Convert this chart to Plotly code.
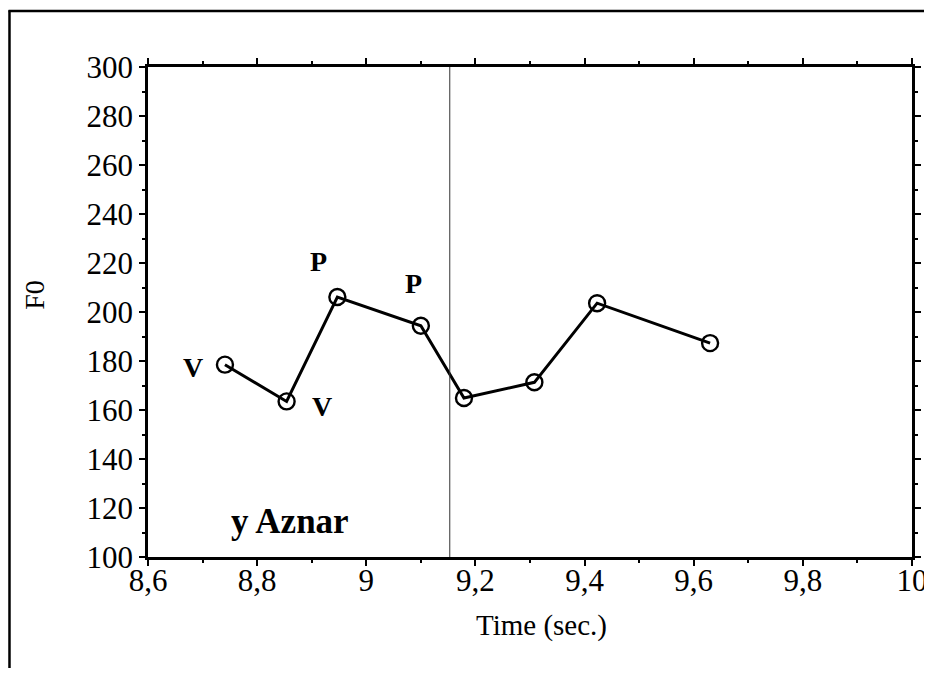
import plotly.graph_objects as go

# ---- data ----
time_s = [8.741, 8.854, 8.947, 9.100, 9.179, 9.308, 9.423, 9.630]
f0_hz = [178.5, 163.5, 206.1, 194.4, 164.9, 171.3, 203.6, 187.3]

boundary_t = 9.153

label_text = ["V", "V", "P", "P"]
label_x = [8.682, 8.918, 8.912, 9.086]
label_y = [177.3, 161.5, 220.6, 211.8]

phrase_text = "y Aznar"
phrase_x = 8.86
phrase_y = 114.6

x_tickvals = [8.6, 8.8, 9.0, 9.2, 9.4, 9.6, 9.8, 10.0]
x_ticktext = ["8,6", "8,8", "9", "9,2", "9,4", "9,6", "9,8", "10"]
y_tickvals = [100, 120, 140, 160, 180, 200, 220, 240, 260, 280, 300]

x_title = "Time (sec.)"
y_title = "F0"

FONT = "Liberation Serif, Times New Roman, serif"

fig = go.Figure()
fig.add_trace(go.Scatter(
    x=time_s, y=f0_hz, mode="lines+markers",
    line=dict(color="black", width=3),
    marker=dict(symbol="circle-open", size=16, color="black", line=dict(width=2.4)),
    showlegend=False, hoverinfo="skip",
))

annotations = []
for t, xx, yy in zip(label_text, label_x, label_y):
    annotations.append(dict(x=xx, y=yy, xref="x", yref="y", text="<b>%s</b>" % t,
                            showarrow=False, font=dict(family=FONT, size=28, color="black")))
annotations.append(dict(x=phrase_x, y=phrase_y, xref="x", yref="y", text="<b>%s</b>" % phrase_text,
                        showarrow=False, font=dict(family=FONT, size=35, color="black")))
# axis titles
annotations.append(dict(x=0.5157, y=-0.1397, xref="paper", yref="paper", text=x_title,
                        xanchor="center", yanchor="middle",
                        showarrow=False, font=dict(family=FONT, size=29, color="black")))
annotations.append(dict(x=-0.1479, y=0.535, xref="paper", yref="paper", text=y_title,
                        xanchor="center", yanchor="middle",
                        textangle=-90, showarrow=False, font=dict(family=FONT, size=28, color="black")))

shapes = [
    dict(type="line", xref="x", yref="paper", x0=boundary_t, x1=boundary_t, y0=0, y1=1,
         line=dict(color="#333333", width=1)),
    # outer frame (left and top edges)
    dict(type="line", xref="paper", yref="paper", x0=-0.1813, x1=-0.1813, y0=-0.3, y1=1.116,
         line=dict(color="black", width=2.5)),
    dict(type="line", xref="paper", yref="paper", x0=-0.1825, x1=1.05, y0=1.1142, y1=1.1142,
         line=dict(color="black", width=2.5)),
]

axis_common = dict(
    showline=True, linecolor="black", linewidth=2.5, mirror="ticks",
    ticks="outside", ticklen=6, tickwidth=2, tickcolor="black",
    showgrid=False, zeroline=False,
    tickfont=dict(family=FONT, size=31, color="black"),
)

# page body has an 8px margin, so the figure is sized and offset to compensate
fig.update_layout(
    width=924, height=660,
    margin=dict(l=140, r=20, t=59, b=110.5, autoexpand=False),
    paper_bgcolor="white", plot_bgcolor="white",
    font=dict(family=FONT, color="black"),
    xaxis=dict(range=[8.6, 10.0], tickvals=x_tickvals, ticktext=x_ticktext,
               minor=dict(dtick=0.1, ticks="outside", ticklen=3, tickwidth=2, tickcolor="black"),
               ticklabelstandoff=-12,
               **axis_common),
    yaxis=dict(range=[100, 300], tickvals=y_tickvals,
               minor=dict(dtick=10, ticks="outside", ticklen=3, tickwidth=2, tickcolor="black"),
               **axis_common),
    annotations=annotations,
    shapes=shapes,
)

fig.write_html("out.html")
